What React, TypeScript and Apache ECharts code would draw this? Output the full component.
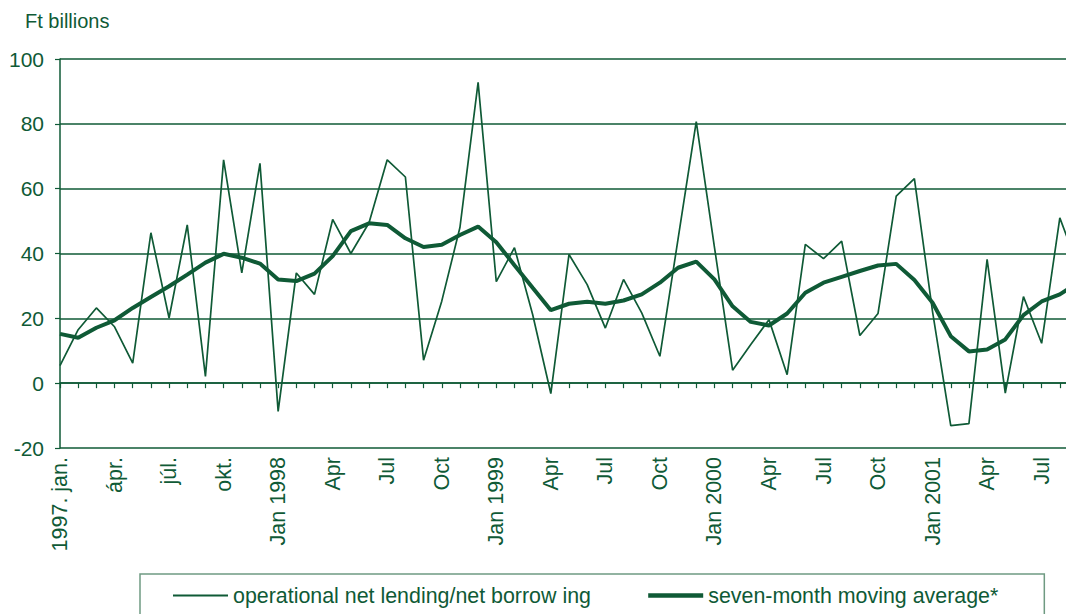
import React, { useEffect, useRef } from "react";
import * as echarts from "echarts";

const categories = [
  "1997-01","1997-02","1997-03","1997-04","1997-05","1997-06","1997-07","1997-08","1997-09","1997-10","1997-11","1997-12",
  "1998-01","1998-02","1998-03","1998-04","1998-05","1998-06","1998-07","1998-08","1998-09","1998-10","1998-11","1998-12",
  "1999-01","1999-02","1999-03","1999-04","1999-05","1999-06","1999-07","1999-08","1999-09","1999-10","1999-11","1999-12",
  "2000-01","2000-02","2000-03","2000-04","2000-05","2000-06","2000-07","2000-08","2000-09","2000-10","2000-11","2000-12",
  "2001-01","2001-02","2001-03","2001-04","2001-05","2001-06","2001-07","2001-08","2001-09",
];

const tickLabels = [
  "1997. jan.", "ápr.", "júl.", "okt.",
  "Jan 1998", "Apr", "Jul", "Oct",
  "Jan 1999", "Apr", "Jul", "Oct",
  "Jan 2000", "Apr", "Jul", "Oct",
  "Jan 2001", "Apr", "Jul",
];

const operational = [
  5.4, 16.5, 23.2, 17.4, 6.2, 46.4, 20.1, 48.8, 2.1, 68.9, 34, 67.8,
  -8.7, 34, 27.4, 50.5, 40, 49.5, 68.9, 63.6, 7.1, 25.3, 48, 92.8,
  31.3, 41.8, 21.2, -3.2, 39.7, 30.4, 17, 32, 21.7, 8.3, 44.5, 80.7,
  42, 4, 11.9, 19.6, 2.6, 42.8, 38.4, 43.8, 14.7, 21.5, 57.7, 63.1,
  22, -13.1, -12.5, 38.2, -3.1, 26.7, 12.3, 51, 36,
];

const movingAverage = [
  15.2, 14, 17.1, 19.4, 23.2, 26.6, 29.9, 33.5, 37.2, 39.9, 38.7, 36.9,
  32, 31.5, 33.8, 39.2, 46.9, 49.3, 48.8, 44.7, 42, 42.7, 45.7, 48.3,
  43.5, 36.4, 29.4, 22.5, 24.5, 25.1, 24.5, 25.5, 27.4, 31, 35.6, 37.5,
  32, 23.7, 18.9, 17.8, 21.5, 27.9, 31, 32.8, 34.6, 36.3, 36.8, 31.8,
  24.8, 14.5, 9.8, 10.4, 13.5, 21, 25.2, 27.4, 31,
];

const seriesNames = [
  "operational net lending/net borrow ing",
  "seven-month moving average*",
];

const GREEN = "#0f5a36";
const FONT = "Liberation Sans, Arial, sans-serif";

export default function App() {
  const ref = useRef<HTMLDivElement>(null);

  useEffect(() => {
    if (!ref.current) return;
    const chart = echarts.init(ref.current, null, { renderer: "svg" });
    chart.setOption({
      animation: false,
      backgroundColor: "#ffffff",
      title: {
        text: "Ft billions",
        left: 25,
        top: 11,
        padding: 0,
        textStyle: { fontSize: 20, fontWeight: "normal", color: GREEN, fontFamily: FONT },
      },
      grid: { left: 60, top: 59, right: 0, bottom: 166, containLabel: false },
      legend: {
        left: 140,
        top: 574,
        orient: "horizontal",
        itemWidth: 55,
        itemHeight: 14,
        itemGap: 55,
        padding: [11, 46, 12, 32],
        borderColor: "#6f9a82",
        borderWidth: 1.5,
        itemStyle: { opacity: 0 },
        textStyle: { fontSize: 21.4, color: GREEN, fontFamily: FONT },
        data: [
          { name: seriesNames[0], lineStyle: { width: 2, color: GREEN } },
          { name: seriesNames[1], lineStyle: { width: 4.5, color: GREEN } },
        ],
      },
      xAxis: {
        type: "category",
        data: categories,
        boundaryGap: false,
        axisLine: { show: true, lineStyle: { color: GREEN, width: 1.5 } },
        axisTick: { show: true, interval: 0, length: 5, lineStyle: { color: GREEN, width: 1.2 } },
        axisLabel: {
          interval: 2,
          rotate: 90,
          margin: 9,
          fontSize: 21.5,
          color: GREEN,
          fontFamily: FONT,
          formatter: (_v: string, i: number) => tickLabels[i / 3] ?? "",
        },
        splitLine: { show: false },
      },
      yAxis: {
        type: "value",
        min: -20,
        max: 100,
        interval: 20,
        axisLine: { show: true, lineStyle: { color: GREEN, width: 1.5 } },
        axisTick: { show: true, length: 5, lineStyle: { color: GREEN, width: 1.2 } },
        axisLabel: { fontSize: 21, color: GREEN, fontFamily: FONT, margin: 16 },
        splitLine: { show: true, lineStyle: { color: GREEN, width: 1.5 } },
      },
      series: [
        {
          name: seriesNames[0],
          type: "line",
          data: operational,
          symbol: "none",
          lineStyle: { color: GREEN, width: 1.7 },
          itemStyle: { color: GREEN },
        },
        {
          name: seriesNames[1],
          type: "line",
          data: movingAverage,
          symbol: "none",
          lineStyle: { color: GREEN, width: 4 },
          itemStyle: { color: GREEN },
        },
      ],
    });
    return () => chart.dispose();
  }, []);

  return (
    <div style={{ position: "fixed", left: 0, top: 0, width: 1066, height: 614, overflow: "hidden" }}>
      <div ref={ref} style={{ width: 1078, height: 614 }} />
    </div>
  );
}
